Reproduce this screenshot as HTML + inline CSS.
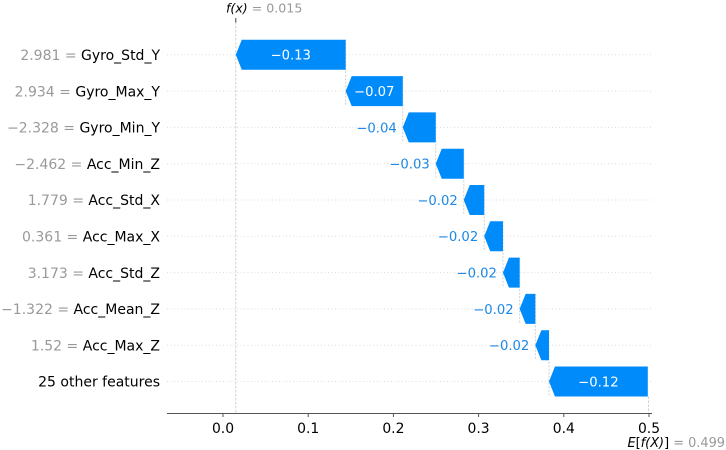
<!DOCTYPE html>
<html>
<head>
<meta charset="utf-8">
<style>
html,body{margin:0;padding:0;background:#fff;}
svg{display:block;font-family:"DejaVu Sans","Liberation Sans",sans-serif;}
</style>
</head>
<body>
<svg id="chart" width="726" height="450" viewBox="0 0 726 450" xmlns="http://www.w3.org/2000/svg"></svg>
<script>
const featureNames = ["Gyro_Std_Y","Gyro_Max_Y","Gyro_Min_Y","Acc_Min_Z","Acc_Std_X","Acc_Max_X","Acc_Std_Z","Acc_Mean_Z","Acc_Max_Z","25 other features"];
const featureValues = ["2.981","2.934","\u22122.328","\u22122.462","1.779","0.361","3.173","\u22121.322","1.52",""];
const shapValues = [-0.129,-0.067,-0.0387,-0.0329,-0.024,-0.022,-0.0196,-0.0184,-0.016,-0.116];
const printedValues = ["\u22120.13","\u22120.07","\u22120.04","\u22120.03","\u22120.02","\u22120.02","\u22120.02","\u22120.02","\u22120.02","\u22120.12"];
const tickValues = [0,0.1,0.2,0.3,0.4,0.5];
const tickLabels = ["0.0","0.1","0.2","0.3","0.4","0.5"];
const fxValue = 0.0150;
const fxLabel = "0.015";
const expectedValue = 0.4994;
const expectedLabel = "0.499";

const svg = document.getElementById('chart');
const NS = 'http://www.w3.org/2000/svg';
const xScale = v => 223 + v * 852;
const yScale = i => 54.8 + i * 36.3;
const axisY = 413.5, barH = 30, head = 6;

function make(tag, attrs, text) {
  const el = document.createElementNS(NS, tag);
  for (const k in attrs) el.setAttribute(k, attrs[k]);
  if (text !== undefined) el.textContent = text;
  svg.appendChild(el);
  return el;
}
function span(parent, style, text) {
  const t = document.createElementNS(NS, 'tspan');
  for (const k in style) t.setAttribute(k, style[k]);
  t.textContent = text;
  parent.appendChild(t);
  return t;
}

// row grid lines
featureNames.forEach((n, i) => {
  const g = make('line', {x1:167, x2:652, y1:yScale(i), y2:yScale(i), stroke:'#dcdcdc', 'stroke-width':1, 'stroke-dasharray':'1 2.5'});
  
  
});

// reference lines
const fxLine = make('line', {x1:xScale(fxValue), x2:xScale(fxValue), y1:22, y2:axisY, stroke:'#d0d0d0', 'stroke-width':1, 'stroke-dasharray':'2.5 1.5'});


const eLine = make('line', {x1:xScale(expectedValue), x2:xScale(expectedValue), y1:yScale(9)+barH/2, y2:axisY, stroke:'#d0d0d0', 'stroke-width':1, 'stroke-dasharray':'2.5 1.5'});



// connectors first so the bars paint over them
let connectorCursor = fxValue;
shapValues.forEach((v, i) => {
  connectorCursor -= v;
  if (i < shapValues.length - 1) {
    const cx = xScale(connectorCursor);
    const c = make('line', {x1:cx, x2:cx, y1:yScale(i)-barH/2, y2:yScale(i+1)+barH/2, stroke:'#d0d0d0', 'stroke-width':1, 'stroke-dasharray':'2 1.5'});
    
    
  }
});

// bars: waterfall runs from f(x) on top, each bar ends where the next starts
let cursor = fxValue;
shapValues.forEach((v, i) => {
  const tipV = cursor, endV = cursor - v;
  const tip = xScale(tipV), end = xScale(endV), y = yScale(i);
  const h = Math.min(head, end - tip);
  const bar = make('polygon', {
    points: [[tip,y],[tip+h,y-barH/2],[end,y-barH/2],[end,y+barH/2],[tip+h,y+barH/2]].map(p => p.join(',')).join(' '),
    fill:'#008bfb'
  });
  
  

  const inside = (end - tip) > 50;
  const lbl = make('text', {
    x: inside ? (tip + end) / 2 : tip - 6,
    y: y + 4.9,
    'text-anchor': inside ? 'middle' : 'end',
    'font-size': 13.2,
    fill: inside ? '#ffffff' : '#1e88e5'
  }, printedValues[i]);
  
  

  const name = make('text', {x:160, y:y + 5.2, 'text-anchor':'end', 'font-size':14});
  
  
  if (featureValues[i]) span(name, {fill:'#999999'}, featureValues[i] + ' = ');
  span(name, {fill:'#000000'}, featureNames[i]);

  cursor = endV;
});

// x axis
const axis = make('line', {x1:167, x2:652, y1:axisY, y2:axisY, stroke:'#555555', 'stroke-width':1});


tickValues.forEach((v, i) => {
  const t = make('line', {x1:xScale(v), x2:xScale(v), y1:axisY, y2:axisY+3.5, stroke:'#555555', 'stroke-width':1});
  
  
  const l = make('text', {x:xScale(v), y:433, 'text-anchor':'middle', 'font-size':13.9, fill:'#000000'}, tickLabels[i]);
  
  
});

// top f(x) annotation
const topTick = make('line', {x1:xScale(fxValue), x2:xScale(fxValue), y1:18, y2:22.5, stroke:'#444444', 'stroke-width':1});


const fx = make('text', {x:226, y:12.5, 'font-size':12.6});


span(fx, {fill:'#000000', 'font-style':'italic'}, 'f(x)');
span(fx, {fill:'#999999'}, ' = ' + fxLabel);

// bottom E[f(X)] annotation
const ex = make('text', {x:725, y:447, 'text-anchor':'end', 'font-size':12.9});


span(ex, {fill:'#000000', 'font-style':'italic'}, 'E');
span(ex, {fill:'#000000'}, '[');
span(ex, {fill:'#000000', 'font-style':'italic'}, 'f(X)');
span(ex, {fill:'#000000'}, ']');
span(ex, {fill:'#999999'}, ' = ' + expectedLabel);
</script>
</body>
</html>
